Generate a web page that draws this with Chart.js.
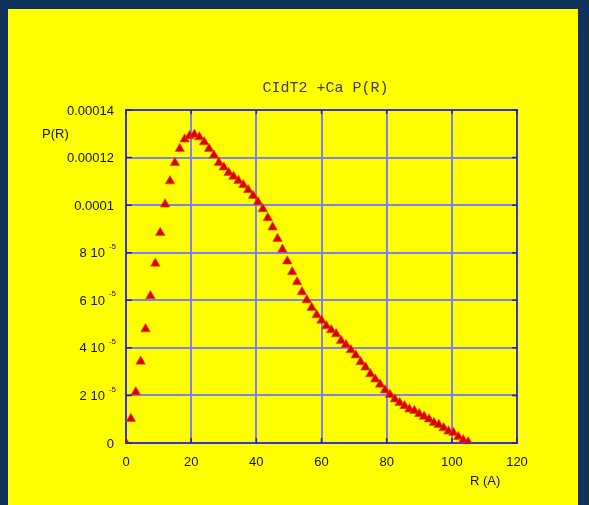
<!DOCTYPE html>
<html>
<head>
<meta charset="utf-8">
<script src="https://cdn.jsdelivr.net/npm/chart.js@4.4.0/dist/chart.umd.min.js"></script>
<style>
    html, body { margin: 0; padding: 0; width: 589px; height: 505px; overflow: hidden; background: #10315a; }
    #panel { position: absolute; left: 8px; top: 9px; width: 570px; height: 496px; background: #ffff00; }
    #wrap { position: absolute; left: 0; top: 0; width: 589px; height: 505px; }
</style>
</head>
<body>
<div id="panel"></div>
<div id="wrap"><canvas id="prChart" width="589" height="505"></canvas></div>
<script>
// ======================
// Data
// ======================
const radius = [
    0, 1.5, 3, 4.5, 6, 7.5, 9, 10.5, 12, 13.5, 15, 16.5, 18, 19.5, 21, 22.5, 24, 25.5,
    27, 28.5, 30, 31.5, 33, 34.5, 36, 37.5, 39, 40.5, 42, 43.5, 45, 46.5, 48, 49.5,
    51, 52.5, 54, 55.5, 57, 58.5, 60, 61.5, 63, 64.5, 66, 67.5, 69, 70.5, 72, 73.5,
    75, 76.5, 78, 79.5, 81, 82.5, 84, 85.5, 87, 88.5, 90, 91.5, 93, 94.5, 96, 97.5,
    99, 100.5, 102, 103.5, 105
];

const pr = [
    0, 1.02e-5, 2.14e-5, 3.43e-5, 4.79e-5, 6.18e-5, 7.55e-5, 8.84e-5, 10.04e-5, 11.01e-5,
    11.78e-5, 12.37e-5, 12.77e-5, 12.91e-5, 12.97e-5, 12.86e-5, 12.65e-5, 12.37e-5, 12.10e-5,
    11.78e-5, 11.59e-5, 11.36e-5, 11.20e-5, 11.03e-5, 10.85e-5, 10.64e-5, 10.40e-5, 10.13e-5,
    9.84e-5, 9.46e-5, 9.07e-5, 8.59e-5, 8.14e-5, 7.64e-5, 7.19e-5, 6.77e-5, 6.35e-5, 6.01e-5,
    5.69e-5, 5.38e-5, 5.15e-5, 4.92e-5, 4.75e-5, 4.58e-5, 4.30e-5, 4.13e-5, 3.91e-5, 3.69e-5,
    3.41e-5, 3.18e-5, 2.90e-5, 2.68e-5, 2.46e-5, 2.22e-5, 2.03e-5, 1.84e-5, 1.69e-5, 1.56e-5,
    1.42e-5, 1.36e-5, 1.22e-5, 1.11e-5, 1.00e-5, 0.85e-5, 0.77e-5, 0.63e-5, 0.49e-5, 0.43e-5,
    0.26e-5, 0.13e-5, 0.04e-5
];

// y tick labels: [main text, superscript]
const yTickLabels = [
    ['0', ''], ['2 10', '-5'], ['4 10', '-5'], ['6 10', '-5'], ['8 10', '-5'],
    ['0.0001', ''], ['0.00012', ''], ['0.00014', '']
];

const chartTitle = 'CIdT2 +Ca P(R)';
const yAxisTitle = 'P(R)';
const xAxisTitle = 'R (A)';

const sansFont = '"Liberation Sans", Arial, sans-serif';

// ======================
// Frame, inner ticks and texts
// ======================
const framePlugin = {
    id: 'frame',
    beforeDatasetsDraw(chart) {
        const { ctx, chartArea: a, scales: { x, y } } = chart;
        ctx.save();
        ctx.strokeStyle = '#3434e6';
        ctx.lineWidth = 2;
        ctx.strokeRect(a.left, a.top, a.right - a.left, a.bottom - a.top);

        ctx.strokeStyle = '#1e1ea0';
        ctx.lineWidth = 1.5;
        ctx.beginPath();
        x.ticks.forEach(t => {
            const px = x.getPixelForValue(t.value);
            ctx.moveTo(px, a.bottom); ctx.lineTo(px, a.bottom - 5);
            ctx.moveTo(px, a.top); ctx.lineTo(px, a.top + 4);
        });
        y.ticks.forEach(t => {
            const py = y.getPixelForValue(t.value);
            ctx.moveTo(a.left, py); ctx.lineTo(a.left + 6, py);
            ctx.moveTo(a.right, py); ctx.lineTo(a.right - 5, py);
        });
        ctx.stroke();
        ctx.restore();
    },
    afterDraw(chart) {
        const { ctx, chartArea: a, scales: { y } } = chart;
        ctx.save();
        ctx.fillStyle = '#111';
        ctx.textBaseline = 'middle';

        // y tick labels with superscripts
        y.ticks.forEach((t, i) => {
            const label = yTickLabels[i];
            if (!label) return;
            const py = y.getPixelForValue(t.value);
            const right = a.left - 12;
            if (label[1]) {
                ctx.font = '8px ' + sansFont;
                ctx.textAlign = 'right';
                ctx.fillText(label[1], right + 2, py - 6);
                const supW = ctx.measureText(label[1]).width;
                ctx.font = '13px ' + sansFont;
                ctx.fillText(label[0], right + 2 - supW - 4, py + 1);
            } else {
                ctx.font = '13px ' + sansFont;
                ctx.textAlign = 'right';
                ctx.fillText(label[0], right, py + 1);
            }
        });

        // axis titles
        ctx.font = '13px ' + sansFont;
        ctx.textAlign = 'left';
        ctx.fillText(yAxisTitle, a.left - 84, a.top + 24);
        ctx.fillText(xAxisTitle, a.right - 47, a.bottom + 38);

        // chart title
        ctx.font = '15px "Liberation Mono", "Courier New", monospace';
        ctx.fillStyle = '#3c3c3c';
        ctx.textAlign = 'center';
        ctx.fillText(chartTitle, (a.left + a.right) / 2 + 4, a.top - 22);
        ctx.restore();
    }
};

// ======================
// P(R) Chart
// ======================
const prCanvas = document.getElementById('prChart');

if (prCanvas) {
    new Chart(prCanvas, {
        type: 'scatter',
        data: {
            datasets: [{
                label: 'P(R)',
                data: radius.map((r, i) => ({ x: r, y: pr[i] })),
                pointStyle: 'triangle',
                pointRadius: 5.5,
                pointHoverRadius: 5.5,
                backgroundColor: '#dd0000',
                borderColor: '#e64a00',
                borderWidth: 0.6
            }]
        },
        options: {
            responsive: false,
            animation: false,
            events: [],
            layout: {
                padding: { left: 0, top: 110, right: 72, bottom: 22 }
            },
            scales: {
                x: {
                    type: 'linear',
                    min: 0,
                    max: 120,
                    afterFit: s => { s.height = 40; },
                    ticks: {
                        stepSize: 20,
                        padding: 12,
                        maxRotation: 0,
                        color: '#111',
                        font: { family: sansFont, size: 13 }
                    },
                    grid: { color: '#7f7ff8', lineWidth: 2, drawTicks: false },
                    border: { display: false }
                },
                y: {
                    min: 0,
                    max: 0.00014,
                    afterFit: s => { s.width = 126; },
                    ticks: { stepSize: 0.00002, display: false },
                    grid: { color: '#7f7ff8', lineWidth: 2, drawTicks: false },
                    border: { display: false }
                }
            },
            plugins: {
                legend: { display: false },
                tooltip: { enabled: false },
                title: { display: false }
            }
        },
        plugins: [framePlugin]
    });
}
</script>
</body>
</html>
